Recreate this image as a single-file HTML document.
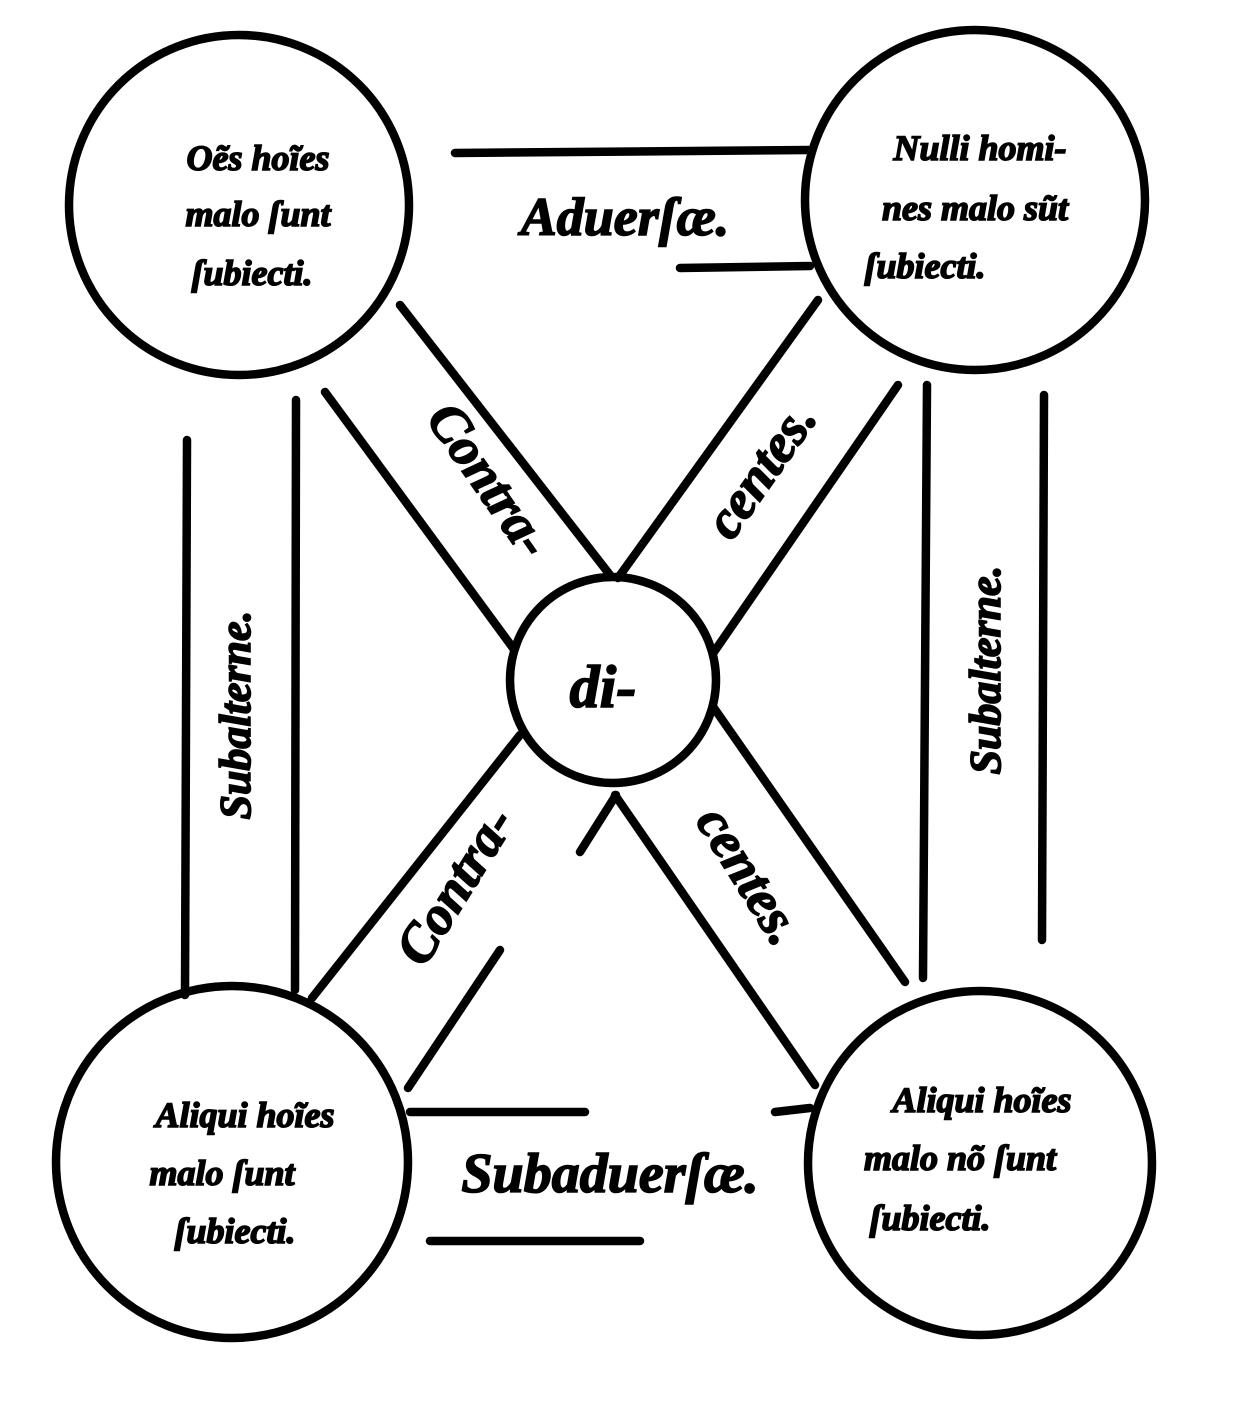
<!DOCTYPE html>
<html><head><meta charset="utf-8"><style>
html,body{margin:0;padding:0;background:#fff;}
svg{display:block;}
text{font-family:"Liberation Serif",serif;font-style:italic;font-weight:bold;fill:#000;stroke:#000;stroke-width:1.6;}
</style></head><body>
<svg width="1234" height="1406" viewBox="0 0 1234 1406" xmlns="http://www.w3.org/2000/svg">
<g fill="none" stroke="#000" stroke-width="8.5" stroke-linecap="round">
<circle cx="239" cy="205" r="170"/>
<circle cx="975" cy="200" r="170"/>
<circle cx="232" cy="1162" r="176"/>
<circle cx="980" cy="1163" r="172"/>
<circle cx="613" cy="680" r="103"/>
<line x1="455" y1="153" x2="810" y2="150"/>
<line x1="680" y1="268" x2="810" y2="266"/>
<line x1="410" y1="1112" x2="585" y2="1112"/>
<line x1="430" y1="1241" x2="640" y2="1241"/>
<line x1="775" y1="1112" x2="810" y2="1108"/>
<line x1="187" y1="440" x2="185" y2="995"/>
<line x1="296" y1="400" x2="295" y2="990"/>
<line x1="927" y1="385" x2="923" y2="978"/>
<line x1="1044" y1="395" x2="1042" y2="940"/>
<line x1="400" y1="305" x2="610" y2="575"/>
<line x1="325" y1="392" x2="513" y2="648"/>
<line x1="818" y1="300" x2="618" y2="578"/>
<line x1="898" y1="385" x2="714" y2="652"/>
<line x1="312" y1="998" x2="520" y2="735"/>
<line x1="408" y1="1088" x2="500" y2="950"/>
<line x1="580" y1="852" x2="616" y2="795"/>
<line x1="615" y1="795" x2="815" y2="1085"/>
<line x1="714" y1="708" x2="905" y2="982"/>
</g>
<g font-size="36">
<text x="258" y="170" text-anchor="middle">Oẽs hoĩes</text>
<text x="258" y="226" text-anchor="middle">malo ſunt</text>
<text x="252" y="285" text-anchor="middle">ſubiecti.</text>
<text x="980" y="160" text-anchor="middle">Nulli homi-</text>
<text x="975" y="220" text-anchor="middle">nes malo sũt</text>
<text x="925" y="278" text-anchor="middle">ſubiecti.</text>
<text x="245" y="1127" text-anchor="middle">Aliqui hoĩes</text>
<text x="222" y="1185" text-anchor="middle">malo ſunt</text>
<text x="235" y="1243" text-anchor="middle">ſubiecti.</text>
<text x="982" y="1112" text-anchor="middle">Aliqui hoĩes</text>
<text x="960" y="1170" text-anchor="middle">malo nõ ſunt</text>
<text x="930" y="1230" text-anchor="middle">ſubiecti.</text>
</g>
<text x="625" y="235" font-size="54" text-anchor="middle">Aduerſæ.</text>
<text x="610" y="1192" font-size="56" text-anchor="middle">Subaduerſæ.</text>
<text x="603" y="707" font-size="60" text-anchor="middle">di-</text>
<text font-size="44" text-anchor="middle" transform="translate(250,715) rotate(-90)">Subalterne.</text>
<text font-size="44" text-anchor="middle" transform="translate(1000,670) rotate(-90)">Subalterne.</text>
<text font-size="54" text-anchor="middle" transform="translate(475,490) rotate(55)">Contra-</text>
<text font-size="54" text-anchor="middle" transform="translate(775,480) rotate(-55)">centes.</text>
<text font-size="54" text-anchor="middle" transform="translate(470,895) rotate(-58)">Contra-</text>
<text font-size="54" text-anchor="middle" transform="translate(735,885) rotate(58)">centes.</text>
</svg>
</body></html>
